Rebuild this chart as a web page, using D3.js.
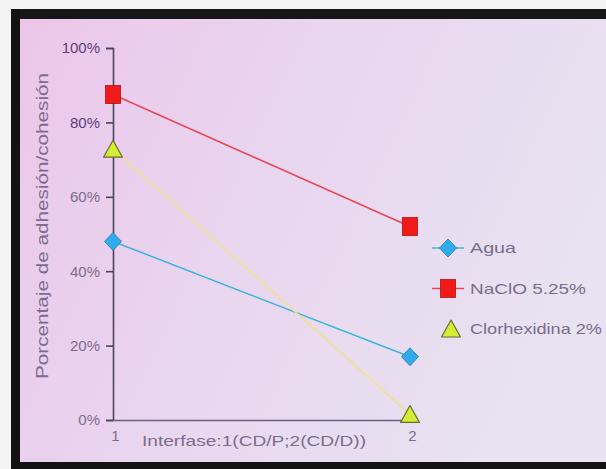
<!DOCTYPE html>
<html><head><meta charset="utf-8">
<script src="https://cdn.jsdelivr.net/npm/d3@7"></script>
<style>html,body{margin:0;padding:0;background:#e8e2f1;overflow:hidden;width:606px;height:469px;}svg{display:block;}</style>
</head><body>
<svg id="c" width="606" height="469" viewBox="0 0 606 469"></svg>
<script>
const categories = ["1", "2"];
const seriesNames = ["Agua", "NaClO 5.25%", "Clorhexidina 2%"];
const agua = [0.48, 0.17];
const naclo = [0.875, 0.52];
const clorhex = [0.728, 0.015];
const yTicks = [0, 0.2, 0.4, 0.6, 0.8, 1.0];
const yTitle = "Porcentaje de adhesión/cohesión";
const xTitle = "Interfase:1(CD/P;2(CD/D))";

const FONT = "Liberation Sans, Arial, sans-serif";
const svg = d3.select("#c");
const defs = svg.append("defs");
const g1 = defs.append("linearGradient").attr("id","bg").attr("x1","0").attr("x2","1").attr("y1","0").attr("y2","0.35");
g1.append("stop").attr("offset","0").attr("stop-color","#ecc6ea");
g1.append("stop").attr("offset","0.45").attr("stop-color","#e9d5ef");
g1.append("stop").attr("offset","1").attr("stop-color","#e8e2f1");

svg.append("rect").attr("x",0).attr("y",0).attr("width",620).attr("height",469).attr("fill","#f3f3f3");
svg.append("rect").attr("x",20).attr("y",19).attr("width",600).attr("height",443).attr("fill","url(#bg)");
// dark frame: top, left, bottom
svg.append("rect").attr("x",11).attr("y",9).attr("width",609).attr("height",10).attr("fill","#161616");
svg.append("rect").attr("x",11).attr("y",9).attr("width",9).attr("height",460).attr("fill","#121212");
svg.append("rect").attr("x",11).attr("y",462).attr("width",609).attr("height",7).attr("fill","#121212");

const x = d3.scalePoint().domain(categories).range([113, 410]);
const y = d3.scaleLinear().domain([0,1]).range([420, 48]);

const axisCol = "#4e4260";
const textCol = "#7b6d8c";

// Y axis
const ya = svg.append("g").attr("transform","translate(113,0)")
  .call(d3.axisLeft(y).tickValues(yTicks).tickFormat(d3.format(".0%")).tickSize(7).tickPadding(6));
ya.select(".domain").attr("stroke",axisCol).attr("stroke-width",1.6);
ya.selectAll(".tick line").attr("stroke",axisCol).attr("stroke-width",1.6);
ya.selectAll(".tick text").attr("fill",textCol).attr("font-family",FONT).attr("font-size",15);
ya.selectAll(".tick text").filter(d=>d>=0.8).attr("fill","#5c3e7c");

// X axis
const xa = svg.append("g").attr("transform","translate(0,420)")
  .call(d3.axisBottom(x).tickSize(0).tickPadding(10));
xa.select(".domain").attr("stroke","#6a6080").attr("stroke-width",1.6);
xa.selectAll(".tick text").attr("fill",textCol).attr("font-family",FONT).attr("font-size",15).attr("dx",2);

svg.append("text").attr("x",142).attr("y",446)
  .attr("fill",textCol).attr("font-family",FONT).attr("font-size",15)
  .attr("textLength",224).attr("lengthAdjust","spacingAndGlyphs").text(xTitle);
svg.append("text").attr("transform","translate(48,226) rotate(-90)").attr("text-anchor","middle")
  .attr("fill",textCol).attr("font-family",FONT).attr("font-size",16)
  .attr("textLength",306).attr("lengthAdjust","spacingAndGlyphs").text(yTitle);

const series = [
  {name: seriesNames[0], vals: agua, line:"#3cb4da", fill:"#30acee", stroke:"#2a78a6", sym:"diamond", tl:46},
  {name: seriesNames[1], vals: naclo, line:"#e84656", fill:"#f01a1a", stroke:"#b01212", sym:"square", tl:116},
  {name: seriesNames[2], vals: clorhex, line:"#efe38a", fill:"#d4ec34", stroke:"#6a6a34", sym:"triangle", tl:132}
];
const line = d3.line().x((d,i)=>x(categories[i])).y(d=>y(d));

function marker(sel, s, cx, cy){
  if(s.sym==="diamond"){
    sel.append("path").attr("d", `M${cx},${cy-9}L${cx+8.5},${cy}L${cx},${cy+9}L${cx-8.5},${cy}Z`)
      .attr("fill",s.fill).attr("stroke",s.stroke).attr("stroke-width",0.8);
  } else if(s.sym==="square"){
    sel.append("rect").attr("x",cx-7.5).attr("y",cy-9).attr("width",15).attr("height",18)
      .attr("fill",s.fill).attr("stroke",s.stroke).attr("stroke-width",0.8);
  } else {
    sel.append("path").attr("d", `M${cx},${cy-9}L${cx+9.5},${cy+8}L${cx-9.5},${cy+8}Z`)
      .attr("fill",s.fill).attr("stroke",s.stroke).attr("stroke-width",1.2).attr("stroke-linejoin","round");
  }
}

series.forEach(s=>{
  svg.append("path").datum(s.vals).attr("d",line).attr("fill","none").attr("stroke",s.line).attr("stroke-width",1.5);
});
series.forEach(s=>{
  s.vals.forEach((v,i)=>marker(svg, s, x(categories[i]), y(v)));
});

// Legend
series.forEach((s,i)=>{
  const ly = 248 + i*40.5;
  if(i<2) svg.append("line").attr("x1",432).attr("x2",464).attr("y1",ly).attr("y2",ly).attr("stroke",s.line).attr("stroke-width",1.5);
  marker(svg, s, i===2 ? 451 : 448, ly);
  svg.append("text").attr("x",470).attr("y",ly+5).attr("fill",textCol)
    .attr("font-family",FONT).attr("font-size",15)
    .attr("textLength",s.tl).attr("lengthAdjust","spacingAndGlyphs").text(s.name);
});
</script>
</body></html>
